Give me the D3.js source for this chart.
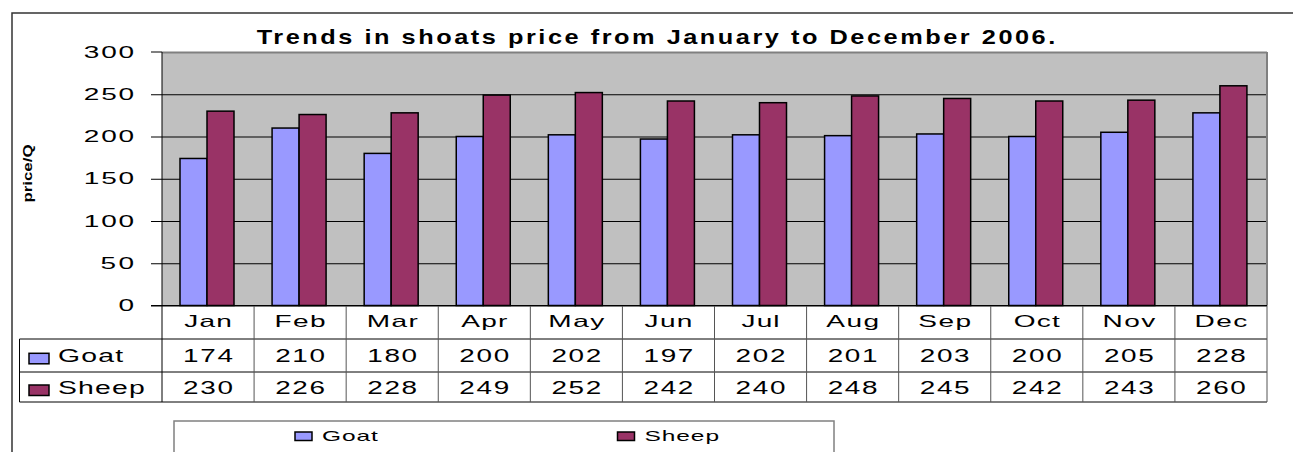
<!DOCTYPE html>
<html>
<head>
<meta charset="utf-8">
<script src="https://cdn.jsdelivr.net/npm/d3@7"></script>
<style>
  html, body { margin: 0; padding: 0; background: #fff; }
  svg { display: block; font-family: Arial, "Liberation Sans", sans-serif; }
</style>
</head>
<body>
<svg id="chart" width="1293" height="452"></svg>
<script>
const title = "Trends in shoats price from January to December 2006.";
const yLabel = "price/Q";
const months = ["Jan", "Feb", "Mar", "Apr", "May", "Jun", "Jul", "Aug", "Sep", "Oct", "Nov", "Dec"];
const seriesNames = ["Goat", "Sheep"];
const goat = [174, 210, 180, 200, 202, 197, 202, 201, 203, 200, 205, 228];
const sheep = [230, 226, 228, 249, 252, 242, 240, 248, 245, 242, 243, 260];
const yTicks = [0, 50, 100, 150, 200, 250, 300];

const colors = { Goat: "#9999ff", Sheep: "#993366" };
const values = { Goat: goat, Sheep: sheep };

const svg = d3.select("#chart");
const plot = { left: 162, right: 1267, top: 52, bottom: 305.5 };
const rows = { header: 339, goat: 372, bottom: 402, tableLeft: 19.5 };

// Text in the picture is wide: glyphs stretched by gsx, the rest is letter spacing
function stretchedText(parent, x, y, str, size, sx, anchor, bold, gsx) {
    gsx = Math.min(gsx || 1.55, sx);
    const g = parent.append("g")
        .attr("transform", `translate(${x},${y}) scale(${gsx},1)`);
    const t = g.append("text")
        .attr("text-anchor", anchor || "middle")
        .attr("font-size", size)
        .attr("font-weight", bold ? "bold" : "normal")
        .attr("fill", "#000")
        .text(str);
    const natural = t.node().getComputedTextLength();
    t.attr("textLength", natural * sx / gsx)
        .attr("lengthAdjust", "spacing");
    return g;
}

// outer frame
svg.append("path")
    .attr("d", "M12,452 L12,13 L1293,13")
    .attr("fill", "none")
    .attr("stroke", "#333")
    .attr("stroke-width", 1.5);

// scales
const x0 = d3.scaleBand()
    .domain(months)
    .range([plot.left, plot.right]);

const x1 = d3.scaleBand()
    .domain(seriesNames)
    .range([18, 18 + 54]);

const y = d3.scaleLinear()
    .domain([0, 300])
    .range([plot.bottom, plot.top]);

// plot background
svg.append("rect")
    .attr("x", plot.left)
    .attr("y", plot.top)
    .attr("width", plot.right - plot.left)
    .attr("height", plot.bottom - plot.top)
    .attr("fill", "#c0c0c0");

// gridlines with ticks
const yAxis = d3.axisLeft(y)
    .tickValues(yTicks)
    .tickSize(plot.right - plot.left + 11)
    .tickFormat("");

const gy = svg.append("g")
    .attr("transform", `translate(${plot.right},0)`)
    .call(yAxis);
gy.select(".domain").remove();
gy.selectAll(".tick line").attr("stroke", "#000").attr("stroke-width", 1);
gy.selectAll(".tick").filter(d => d === 300).select("line")
    .attr("x2", -(plot.right - plot.left))
    .attr("stroke", "#808080")
    .attr("stroke-width", 2);
svg.append("line")
    .attr("x1", plot.left - 11).attr("x2", plot.left)
    .attr("y1", y(300)).attr("y2", y(300))
    .attr("stroke", "#000");

// right border of plot
svg.append("line")
    .attr("x1", plot.right).attr("x2", plot.right)
    .attr("y1", plot.top).attr("y2", plot.bottom)
    .attr("stroke", "#808080")
    .attr("stroke-width", 2);

// y tick labels
yTicks.forEach(t => {
    stretchedText(svg, 134, y(t) + 5.6, String(t), 16, 1.88, "end", false, 1.75);
});

// bars
const groups = svg.append("g").selectAll("g")
    .data(months)
    .join("g")
    .attr("transform", d => `translate(${x0(d)},0)`);

groups.selectAll("rect")
    .data((m, i) => seriesNames.map(s => ({ s, v: values[s][i] })))
    .join("rect")
    .attr("x", d => x1(d.s))
    .attr("y", d => y(d.v))
    .attr("width", x1.bandwidth())
    .attr("height", d => y(0) - y(d.v))
    .attr("fill", d => colors[d.s])
    .attr("stroke", "#000")
    .attr("stroke-width", 1.5);

// data table lines
const tbl = svg.append("g").attr("stroke", "#000").attr("stroke-width", 1);
[rows.header, rows.goat, rows.bottom].forEach(ry => {
    tbl.append("line")
        .attr("x1", rows.tableLeft).attr("x2", plot.right)
        .attr("y1", ry).attr("y2", ry);
});
tbl.append("line")
    .attr("x1", rows.tableLeft).attr("x2", rows.tableLeft)
    .attr("y1", rows.header).attr("y2", rows.bottom);
months.forEach(m => {
    tbl.append("line")
        .attr("x1", x0(m) + x0.step()).attr("x2", x0(m) + x0.step())
        .attr("y1", plot.bottom).attr("y2", rows.bottom)
        .attr("stroke", "#555");
});
// y axis line and zero line
svg.append("line")
    .attr("x1", plot.left).attr("x2", plot.left)
    .attr("y1", plot.top).attr("y2", rows.bottom)
    .attr("stroke", "#000");
svg.append("line")
    .attr("x1", plot.left - 11).attr("x2", plot.right)
    .attr("y1", plot.bottom).attr("y2", plot.bottom)
    .attr("stroke", "#000");

// month labels and values
months.forEach((m, i) => {
    const cx = x0(m) + x0.bandwidth() / 2;
    stretchedText(svg, cx, 326.7, m, 16.3, 1.82, "middle", false, 1.72);
    stretchedText(svg, cx, 362.3, String(goat[i]), 18, 1.66);
    stretchedText(svg, cx, 394, String(sheep[i]), 18, 1.66);
});

// row headers with swatches
seriesNames.forEach((s, i) => {
    const base = i === 0 ? 362.3 : 394;
    svg.append("rect")
        .attr("x", 29).attr("y", base - 9)
        .attr("width", 20).attr("height", 10.5)
        .attr("fill", colors[s])
        .attr("stroke", "#000")
        .attr("stroke-width", 1.5);
    stretchedText(svg, 58, base, s, 18.3, 1.64, "start");
});

// title
stretchedText(svg, 656, 44, title, 19.5, 1.555, "middle", true, 1.3);

// y axis title
svg.append("text")
    .attr("transform", "translate(32,173.5) rotate(-90)")
    .attr("text-anchor", "middle")
    .attr("font-size", 12)
    .attr("font-weight", "bold")
    .attr("textLength", 58)
    .attr("lengthAdjust", "spacingAndGlyphs")
    .text(yLabel);

// legend
svg.append("rect")
    .attr("x", 174).attr("y", 421)
    .attr("width", 834 - 174).attr("height", 60)
    .attr("fill", "#fff")
    .attr("stroke", "#808080")
    .attr("stroke-width", 1.5);

const legendPos = { Goat: 295, Sheep: 617.5 };
seriesNames.forEach(s => {
    svg.append("rect")
        .attr("x", legendPos[s]).attr("y", 432)
        .attr("width", 17).attr("height", 8.5)
        .attr("fill", colors[s])
        .attr("stroke", "#000")
        .attr("stroke-width", 1.5);
    stretchedText(svg, legendPos[s] + 27, 441, s, 14.4, 1.79, "start", false, 1.7);
});
</script>
</body>
</html>
